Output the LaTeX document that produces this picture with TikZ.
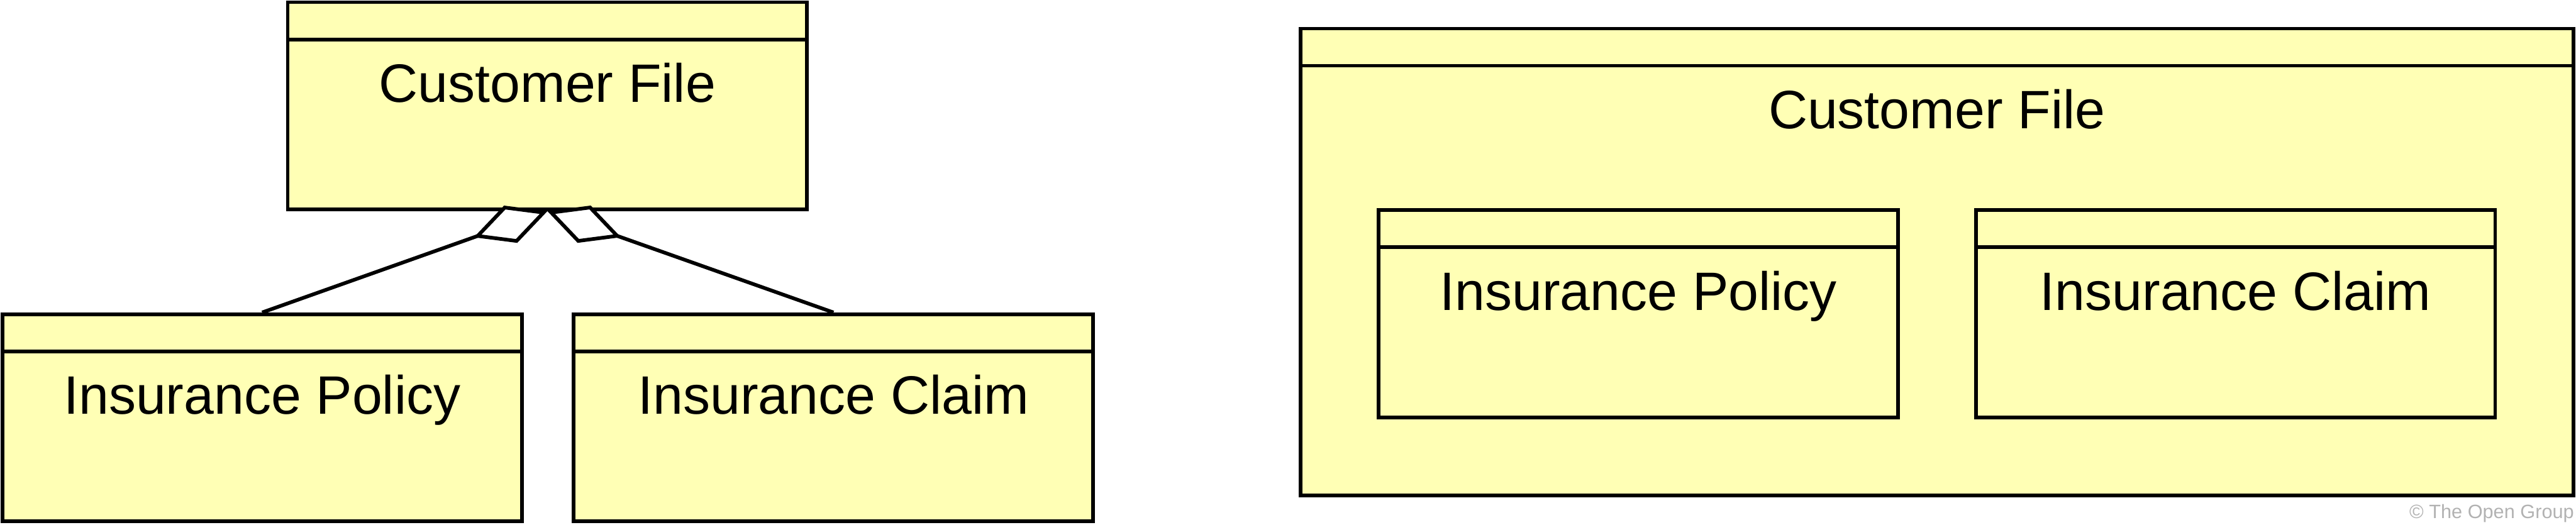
\documentclass[tikz,border=0pt]{standalone}
\usepackage{fontspec}
\setmainfont{Liberation Sans}
\usetikzlibrary{arrows.meta}
\definecolor{entityfill}{RGB}{255,255,181}

\begin{document}
\begin{tikzpicture}[
  entity/.style={draw,line width=1.9pt,fill=entityfill,minimum width=9.45cm,minimum height=3.77cm,inner sep=0pt},
  bigentity/.style={entity,minimum width=23.16cm,minimum height=8.5cm},
  entitytext/.style={anchor=base,inner sep=0pt,font=\fontsize{28}{34}\selectfont},
  aggr/.style={line width=1.9pt,{Diamond[fill=white,length=1.42cm,width=0.72cm]}-}
]
\useasboundingbox (0,0) rectangle (46.87,-9.55);
% left: aggregation
\node[entity] (cf) at (9.96,-1.925) {};
\node[entity] (ip) at (4.77,-7.605) {};
\node[entity] (ic) at (15.165,-7.605) {};
% right: nesting
\node[bigentity] (cfo) at (35.24,-4.77) {};
\node[entity] (ipo) at (29.81,-5.71) {};
\node[entity] (ico) at (40.675,-5.71) {};
\foreach \b in {cf,ip,ic,cfo,ipo,ico}
  \draw[line width=1.9pt] ([yshift=-0.71cm]\b.north west) -- ([yshift=-0.71cm]\b.north east);
\node[entitytext] (cft) at ([yshift=-1.85cm]cf.north) {Customer File};
\node[entitytext] (ipt) at ([yshift=-1.85cm]ip.north) {Insurance Policy};
\node[entitytext] (ict) at ([yshift=-1.85cm]ic.north) {Insurance Claim};
\node[entitytext] (cfot) at ([yshift=-1.85cm]cfo.north) {Customer File};
\node[entitytext] (ipot) at ([yshift=-1.85cm]ipo.north) {Insurance Policy};
\node[entitytext] (icot) at ([yshift=-1.85cm]ico.north) {Insurance Claim};
\draw[aggr] (cf.south) -- (ip.north);
\draw[aggr] (cf.south) -- (ic.north);
\node[anchor=base east,inner sep=0pt,text=black!30,font=\fontsize{10}{12}\selectfont] (copy) at (46.84,-9.43) {© The Open Group};
\end{tikzpicture}
\end{document}
